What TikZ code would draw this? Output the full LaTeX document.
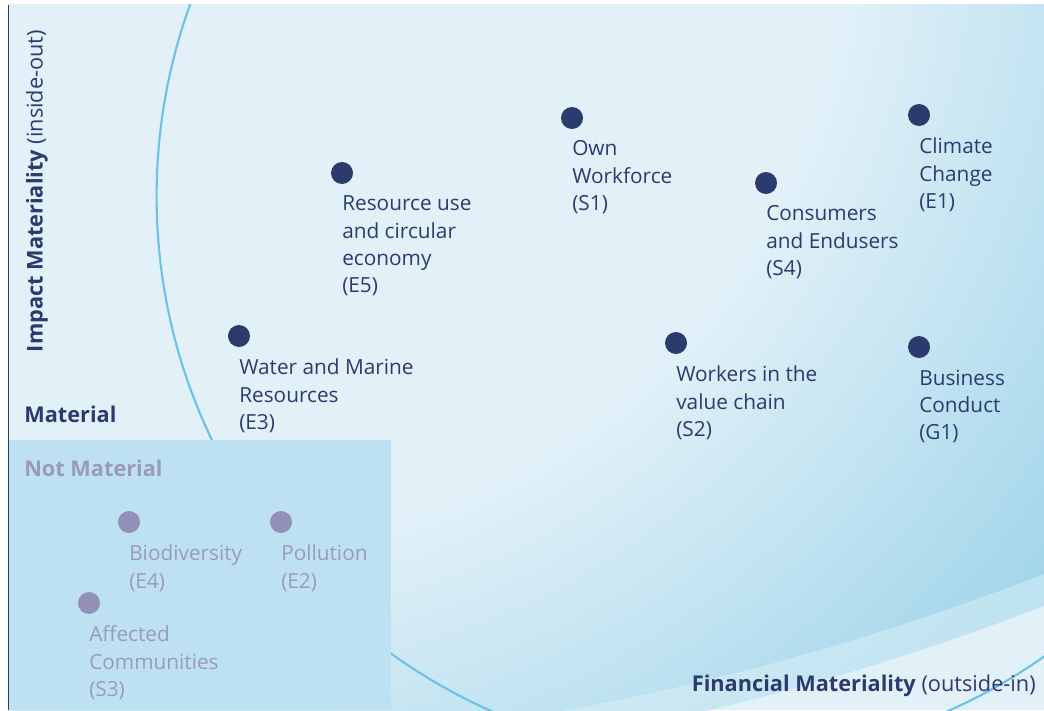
\documentclass[tikz,border=0pt]{standalone}
\usepackage{fontspec}
\setmainfont{Open Sans}
\usetikzlibrary{positioning}

\definecolor{navy}{HTML}{2C3B6E}
\definecolor{paleblue}{HTML}{E2F1F8}
\definecolor{boxblue}{HTML}{BDE1F1}
\definecolor{arcblue}{HTML}{6CC3E6}
\definecolor{deepblue}{HTML}{A3D6EA}
\definecolor{liteblue}{HTML}{BFE3F1}
\definecolor{greyviolet}{HTML}{9290B6}
\definecolor{greytext}{HTML}{9B99BF}

\pgfdeclareradialshading{glow}{\pgfpoint{0bp}{0bp}}{color(0bp)=(paleblue); color(7.5bp)=(paleblue); color(12.5bp)=(deepblue); color(50bp)=(deepblue)}
\pgfdeclareradialshading{glowlite}{\pgfpoint{0bp}{0bp}}{color(0bp)=(paleblue); color(7.5bp)=(paleblue); color(12.5bp)=(liteblue); color(50bp)=(liteblue)}

\begin{document}
\begin{tikzpicture}[x=0.75pt,y=-0.75pt,
    topic/.style={circle,fill=navy,minimum size=16.5pt,inner sep=0pt},
    minor/.style={topic,fill=greyviolet},
    lbl/.style={align=left,inner sep=0pt,text=navy,font=\fontsize{15.6}{20.5}\selectfont},
    minorlbl/.style={lbl,text=greytext},
    head/.style={inner sep=0pt,text=navy,font=\fontsize{16.3}{19}\selectfont}]

    \useasboundingbox (0,0) rectangle (1044,710);

    % background with the glow at the lower right
    \fill[paleblue] (8,5) rectangle (1044,710);
    \begin{scope}
        \clip (8,5) rectangle (1044,710);
        \begin{scope}
            \clip (77,-1905) circle (2690);
            \shade[shading=glowlite] (200,-100) circle (2156);
        \end{scope}
        \clip (77,-1905) circle (2660);
        \shade[shading=glow] (200,-100) circle (2156);
    \end{scope}

    % big circle
    \begin{scope}
        \clip (8,5) rectangle (1044,710);
        \draw[arcblue,line width=1.6pt] (719.6,196.3) circle (563);
    \end{scope}

    % not material corner and axis
    \fill[boxblue] (9,440) rectangle (391,710);
    \draw[navy,line width=1.2pt] (8.5,5) -- (8.5,710);

    \node[head,rotate=90] (impact) at (37,191) {\textbf{Impact Materiality} (inside-out)};
    \node[head,anchor=east] (financial) at (1036,686) {\textbf{Financial Materiality} (outside-in)};
    \node[head,anchor=west] (material) at (24,414) {\textbf{Material}};
    \node[head,anchor=west,text=greytext] (notmaterial) at (24,468) {\textbf{Not Material}};

    % material topics
    \node[topic] (s1) at (572,118) {};
    \node[topic] (e5) at (342,173) {};
    \node[topic] (e1) at (919,115) {};
    \node[topic] (s4) at (766,183) {};
    \node[topic] (e3) at (239,336) {};
    \node[topic] (s2) at (676,343) {};
    \node[topic] (g1) at (919,347) {};

    \node[lbl,below right=8.5pt and 0pt of s1.south] (s1-txt) {Own\\Workforce\\(S1)};
    \node[lbl,below right=8.5pt and 0pt of e5.south] (e5-txt) {Resource use\\and circular\\economy\\(E5)};
    \node[lbl,below right=8.5pt and 0pt of e1.south] (e1-txt) {Climate\\Change\\(E1)};
    \node[lbl,below right=8.5pt and 0pt of s4.south] (s4-txt) {Consumers\\and Endusers\\(S4)};
    \node[lbl,below right=8.5pt and 0pt of e3.south] (e3-txt) {Water and Marine\\Resources\\(E3)};
    \node[lbl,below right=8.5pt and 0pt of s2.south] (s2-txt) {Workers in the\\value chain\\(S2)};
    \node[lbl,below right=8.5pt and 0pt of g1.south] (g1-txt) {Business\\Conduct\\(G1)};

    % not material topics
    \node[minor] (e4) at (129,522) {};
    \node[minor] (e2) at (281,522) {};
    \node[minor] (s3) at (89,603) {};

    \node[minorlbl,below right=8.5pt and 0pt of e4.south] (e4-txt) {Biodiversity\\(E4)};
    \node[minorlbl,below right=8.5pt and 0pt of e2.south] (e2-txt) {Pollution\\(E2)};
    \node[minorlbl,below right=8.5pt and 0pt of s3.south] (s3-txt) {Affected\\Communities\\(S3)};

\end{tikzpicture}
\end{document}
